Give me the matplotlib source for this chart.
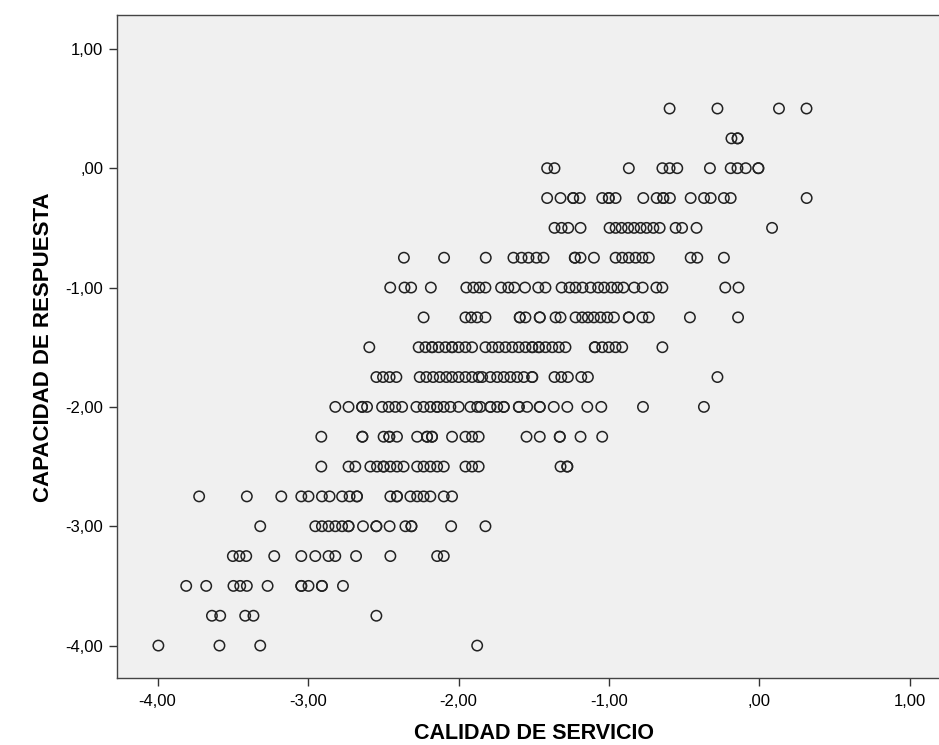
import matplotlib.pyplot as plt
import numpy as np

plt.rcParams['font.family'] = ['Liberation Sans', 'DejaVu Sans']

# CALIDAD DE SERVICIO values read per CAPACIDAD DE RESPUESTA level
x_p050 = [-0.597, -0.279, 0.130, 0.313]
x_p025 = [-0.186, -0.145, -0.145]
x_000 = [-1.411, -1.362, -0.868, -0.645, -0.597, -0.546, -0.329, -0.191, -0.146,
         -0.091, -0.007, -0.007]
x_m025 = [-1.411, -1.322, -1.238, -1.238, -1.194, -1.045, -1.001, -1.001, -0.956,
          -0.772, -0.683, -0.639, -0.639, -0.595, -0.457, -0.368, -0.324, -0.236,
          -0.191, 0.314]
x_m050 = [-1.362, -1.315, -1.271, -1.189, -0.996, -0.956, -0.916, -0.873, -0.833,
          -0.790, -0.750, -0.705, -0.663, -0.557, -0.514, -0.418, 0.084]
x_m075 = [-2.363, -2.096, -1.819, -1.635, -1.581, -1.535, -1.482, -1.435, -1.227,
          -1.227, -1.189, -1.100, -0.956, -0.912, -0.868, -0.823, -0.778, -0.735,
          -0.457, -0.413, -0.236]
x_m100 = [-2.454, -2.359, -2.315, -2.184, -1.948, -1.901, -1.861, -1.821, -1.717,
          -1.669, -1.629, -1.558, -1.470, -1.422, -1.315, -1.262, -1.222, -1.176,
          -1.122, -1.072, -1.032, -0.984, -0.944, -0.904, -0.832, -0.776, -0.685,
          -0.645, -0.227, -0.139]
x_m125 = [-2.232, -1.954, -1.916, -1.876, -1.821, -1.593, -1.593, -1.555, -1.460,
          -1.460, -1.355, -1.322, -1.222, -1.178, -1.140, -1.100, -1.056, -1.011,
          -0.967, -0.868, -0.868, -0.778, -0.735, -0.462, -0.142]
x_m150 = [-2.593, -2.265, -2.220, -2.176, -2.176, -2.132, -2.087, -2.043, -2.043,
          -1.999, -1.954, -1.910, -1.821, -1.776, -1.733, -1.688, -1.643, -1.599,
          -1.555, -1.510, -1.510, -1.466, -1.466, -1.422, -1.377, -1.333, -1.289,
          -1.094, -1.094, -1.045, -1.001, -0.956, -0.912, -0.645]
x_m175 = [-2.546, -2.502, -2.458, -2.413, -2.258, -2.214, -2.169, -2.125, -2.081,
          -2.043, -1.999, -1.954, -1.910, -1.866, -1.843, -1.788, -1.743, -1.699,
          -1.655, -1.610, -1.566, -1.510, -1.510, -1.362, -1.317, -1.273, -1.184,
          -1.140, -0.279]
x_m200 = [-2.819, -2.731, -2.641, -2.641, -2.608, -2.508, -2.464, -2.420, -2.375,
          -2.280, -2.232, -2.187, -2.142, -2.142, -2.098, -2.054, -1.999, -1.921,
          -1.876, -1.854, -1.788, -1.788, -1.743, -1.699, -1.699, -1.599, -1.599,
          -1.544, -1.460, -1.460, -1.367, -1.277, -1.144, -1.051, -0.774, -0.369]
x_m225 = [-2.912, -2.639, -2.639, -2.498, -2.460, -2.460, -2.409, -2.275, -2.209,
          -2.209, -2.176, -2.176, -2.043, -1.954, -1.910, -1.866, -1.548, -1.460,
          -1.327, -1.327, -1.189, -1.045]
x_m250 = [-2.912, -2.731, -2.686, -2.586, -2.542, -2.498, -2.498, -2.453, -2.409,
          -2.365, -2.275, -2.232, -2.187, -2.142, -2.098, -1.954, -1.910, -1.866,
          -1.322, -1.277, -1.277]
x_m275 = [-3.724, -3.407, -3.178, -3.045, -2.997, -2.908, -2.857, -2.774, -2.724,
          -2.675, -2.675, -2.453, -2.409, -2.409, -2.320, -2.275, -2.232, -2.187,
          -2.098, -2.043]
x_m300 = [-3.318, -2.952, -2.908, -2.864, -2.819, -2.774, -2.731, -2.731, -2.635,
          -2.546, -2.546, -2.458, -2.353, -2.313, -2.313, -2.049, -1.821]
x_m325 = [-3.500, -3.456, -3.411, -3.225, -3.045, -2.952, -2.864, -2.819, -2.681,
          -2.453, -2.142, -2.098]
x_m350 = [-3.810, -3.677, -3.496, -3.451, -3.407, -3.269, -3.045, -3.045, -2.997,
          -2.908, -2.908, -2.768]
x_m375 = [-3.639, -3.584, -3.418, -3.363, -2.546]
x_m400 = [-3.995, -3.589, -3.318, -1.876]

levels = [0.50, 0.25, 0.00, -0.25, -0.50, -0.75, -1.00, -1.25, -1.50, -1.75,
          -2.00, -2.25, -2.50, -2.75, -3.00, -3.25, -3.50, -3.75, -4.00]
rows = [x_p050, x_p025, x_000, x_m025, x_m050, x_m075, x_m100, x_m125, x_m150,
        x_m175, x_m200, x_m225, x_m250, x_m275, x_m300, x_m325, x_m350, x_m375,
        x_m400]

xs = np.concatenate([np.array(r) for r in rows])
ys = np.concatenate([np.full(len(r), lv) for r, lv in zip(rows, levels)])

tick_vals = [-4, -3, -2, -1, 0, 1]
x_tick_labels = ['-4,00', '-3,00', '-2,00', '-1,00', ',00', '1,00']
y_tick_labels = ['-4,00', '-3,00', '-2,00', '-1,00', ',00', '1,00']

fig = plt.figure(figsize=(9.39, 7.45), dpi=100)
ax = fig.add_axes([117 / 939, 66.6 / 745, 835 / 939, 663.2 / 745])
ax.set_facecolor('#f0f0f0')

ax.scatter(xs, ys, s=56, facecolors='none', edgecolors='#222222', linewidths=1.1)

ax.set_xlim(-4.27, 1.28)
ax.set_ylim(-4.275, 1.282)
ax.set_xticks(tick_vals)
ax.set_xticklabels(x_tick_labels)
ax.set_yticks(tick_vals)
ax.set_yticklabels(y_tick_labels)
ax.tick_params(direction='out', length=6, width=1, labelsize=12, color='#333333')
ax.tick_params(axis='x', pad=5)
ax.tick_params(axis='y', pad=4)

for sp in ax.spines.values():
    sp.set_color('#444444')
    sp.set_linewidth(1)

ax.set_xlabel('CALIDAD DE SERVICIO', fontsize=15.5, fontweight='bold', labelpad=10)
ax.set_ylabel('CAPACIDAD DE RESPUESTA', fontsize=16, fontweight='bold', labelpad=8)

fig.savefig('out.png', dpi=100)
